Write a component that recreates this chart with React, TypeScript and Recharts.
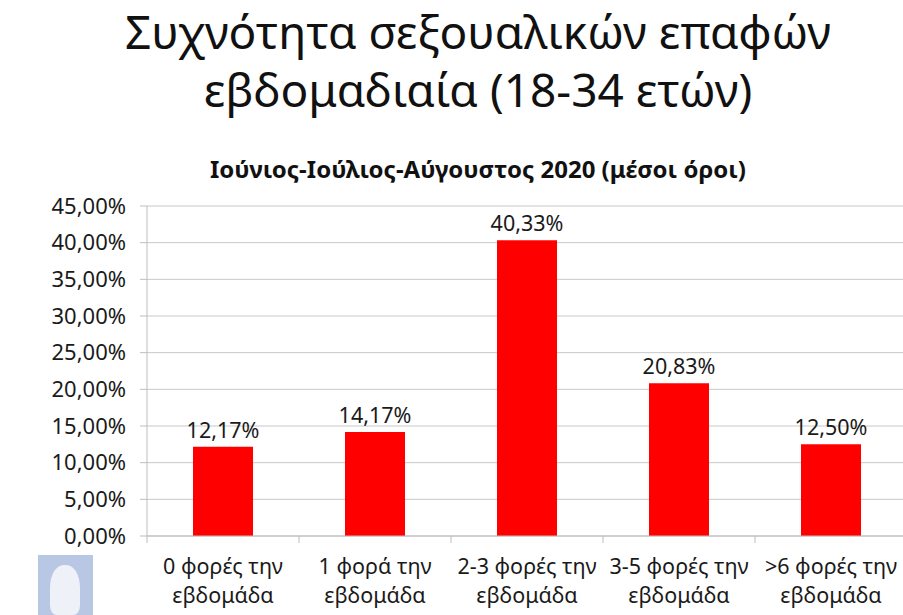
import React from "react";
import { BarChart, Bar, XAxis, YAxis, CartesianGrid, LabelList } from "recharts";

const categories = [
  ["0 φορές την", "εβδομάδα"],
  ["1 φορά την", "εβδομάδα"],
  ["2-3 φορές την", "εβδομάδα"],
  ["3-5 φορές την", "εβδομάδα"],
  [">6 φορές την", "εβδομάδα"],
];
const shares = [12.17, 14.17, 40.33, 20.83, 12.5];
const yTicks = [0, 5, 10, 15, 20, 25, 30, 35, 40, 45];

const rows = categories.map((c, i) => ({ name: c.join("\n"), value: shares[i] }));

const font = "'Noto Sans', 'DejaVu Sans', sans-serif";
const fmt = (v: number) => v.toFixed(2).replace(".", ",") + "%";

// category label + a short tick at each band edge (Excel style)
function CatTick({ x, y, payload, width, visibleTicksCount, index }: any) {
  const lines = String(payload.value).split("\n");
  const half = width / visibleTicksCount / 2;
  const top = y - 8;
  return (
    <g>
      <line x1={x - half} x2={x - half} y1={top} y2={top + 7} stroke="#bdbdbd" />
      {index === visibleTicksCount - 1 && (
        <line x1={x + half} x2={x + half} y1={top} y2={top + 7} stroke="#bdbdbd" />
      )}
      <text x={x} y={y} textAnchor="middle" fill="#1a1a1a" fontSize={21.5} fontFamily={font}>
        {lines.map((l, i) => (
          <tspan key={i} x={x} dy={i === 0 ? 30 : 29}>
            {l}
          </tspan>
        ))}
      </text>
    </g>
  );
}

export default function App() {
  return (
    <div style={{ position: "absolute", left: 0, top: 0, width: 903, height: 615, background: "#fff", fontFamily: font, overflow: "hidden" }}>
      <div style={{ position: "absolute", left: 53, width: 850, top: 2, textAlign: "center", fontSize: 46, lineHeight: "58px", color: "#111" }}>
        Συχνότητα σεξουαλικών επαφών
        <br />
        εβδομαδιαία (18-34 ετών)
      </div>
      <div style={{ position: "absolute", left: 53, width: 850, top: 152, textAlign: "center", fontSize: 24, fontWeight: 700, color: "#111" }}>
        Ιούνιος-Ιούλιος-Αύγουστος 2020 (μέσοι όροι)
      </div>
      <div style={{ position: "absolute", left: 38, top: 555, width: 55, height: 60, background: "#b7c7e4" }}>
        <div style={{ position: "absolute", left: 12, top: 10, width: 30, height: 50, borderRadius: "45% 45% 20% 20%", background: "#eef1f7" }} />
      </div>
      <div style={{ position: "absolute", left: 0, top: 0 }}>
        <BarChart width={907} height={615} data={rows} margin={{ top: 206, right: 0, bottom: 0, left: 0 }}>
          <CartesianGrid vertical={false} stroke="#c8c8c8" />
          <XAxis
            dataKey="name"
            tick={<CatTick />}
            tickLine={false}
            tickSize={0}
            tickMargin={8}
            axisLine={{ stroke: "#bdbdbd" }}
            interval={0}
            height={79}
          />
          <YAxis
            domain={[0, 45]}
            ticks={yTicks}
            tickFormatter={fmt}
            width={147}
            tick={{ fill: "#1a1a1a", fontSize: 22, fontFamily: font }}
            tickSize={7}
            tickMargin={14}
            axisLine={{ stroke: "#bdbdbd" }}
            tickLine={{ stroke: "#bdbdbd" }}
            interval={0}
          />
          <Bar dataKey="value" fill="#ff0000" barSize={60} isAnimationActive={false}>
            <LabelList dataKey="value" position="top" offset={9} formatter={(v: any) => fmt(Number(v))} fill="#1a1a1a" fontSize={21.5} fontFamily={font} />
          </Bar>
        </BarChart>
      </div>
    </div>
  );
}
